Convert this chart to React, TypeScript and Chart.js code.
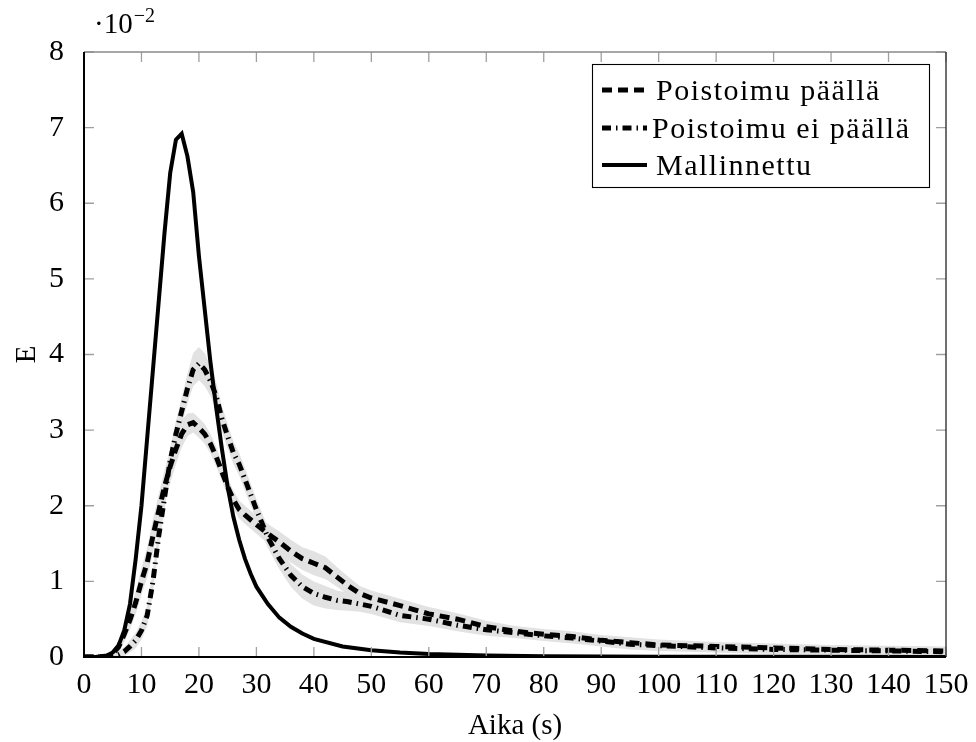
import React, { useEffect, useRef } from 'react';
import { Chart, registerables } from 'chart.js';

Chart.register(...registerables);

const FONT = '"Liberation Serif", "Times New Roman", serif';

// Time axis (s) for the measured curves
const measTime = [0, 2, 4, 5, 6, 7, 8, 9, 10, 11, 12, 13, 14, 15, 16, 17, 18, 19, 20, 21, 22, 23, 24, 25, 26, 27, 28, 30, 32, 34, 36, 38, 40, 42, 44, 46, 48, 50, 55, 60, 65, 70, 75, 80, 85, 90, 95, 100, 110, 120, 130, 140, 150];

// "Poistoimu päällä" (E in units of 10^-2)
const withE = [0, 0, 0.01, 0.05, 0.13, 0.3, 0.49, 0.72, 1.0, 1.25, 1.6, 1.93, 2.25, 2.52, 2.75, 2.95, 3.07, 3.1, 3.03, 2.95, 2.82, 2.65, 2.45, 2.25, 2.08, 1.95, 1.88, 1.75, 1.63, 1.52, 1.4, 1.3, 1.24, 1.18, 1.06, 0.94, 0.84, 0.78, 0.68, 0.57, 0.5, 0.4, 0.34, 0.3, 0.27, 0.22, 0.19, 0.16, 0.14, 0.12, 0.1, 0.09, 0.08];
const withStd = [0, 0, 0.02, 0.05, 0.08, 0.1, 0.12, 0.15, 0.18, 0.2, 0.22, 0.22, 0.22, 0.22, 0.2, 0.18, 0.15, 0.13, 0.13, 0.13, 0.13, 0.13, 0.12, 0.12, 0.12, 0.12, 0.12, 0.12, 0.13, 0.14, 0.15, 0.15, 0.16, 0.15, 0.13, 0.12, 0.1, 0.1, 0.09, 0.09, 0.08, 0.08, 0.07, 0.07, 0.07, 0.07, 0.07, 0.07, 0.06, 0.06, 0.06, 0.06, 0.06];

// "Poistoimu ei päällä"
const withoutE = [0, 0, 0, 0.01, 0.03, 0.07, 0.14, 0.22, 0.35, 0.55, 1.0, 1.6, 2.1, 2.6, 2.95, 3.25, 3.55, 3.8, 3.88, 3.8, 3.65, 3.45, 3.15, 2.92, 2.7, 2.55, 2.35, 1.95, 1.58, 1.3, 1.08, 0.93, 0.84, 0.79, 0.75, 0.73, 0.7, 0.67, 0.55, 0.5, 0.42, 0.36, 0.32, 0.28, 0.25, 0.21, 0.17, 0.15, 0.12, 0.1, 0.09, 0.08, 0.07];
const withoutStd = [0, 0, 0, 0.02, 0.04, 0.06, 0.08, 0.1, 0.12, 0.14, 0.15, 0.15, 0.15, 0.16, 0.17, 0.18, 0.2, 0.22, 0.22, 0.22, 0.2, 0.18, 0.17, 0.16, 0.15, 0.15, 0.15, 0.14, 0.14, 0.14, 0.15, 0.16, 0.16, 0.15, 0.13, 0.12, 0.1, 0.1, 0.09, 0.09, 0.08, 0.08, 0.07, 0.07, 0.07, 0.07, 0.07, 0.07, 0.06, 0.06, 0.06, 0.06, 0.06];

// "Mallinnettu"
const modelTime = [0, 2, 4, 5, 6, 7, 8, 9, 10, 11, 12, 13, 14, 15, 16, 17, 18, 19, 20, 21, 22, 23, 24, 25, 26, 27, 28, 29, 30, 32, 34, 36, 38, 40, 45, 50, 55, 60, 70, 80, 100, 120, 150];
const modelE = [0, 0, 0.02, 0.06, 0.15, 0.35, 0.7, 1.3, 2.0, 2.9, 3.8, 4.7, 5.6, 6.4, 6.84, 6.92, 6.62, 6.15, 5.3, 4.6, 3.9, 3.3, 2.75, 2.25, 1.85, 1.55, 1.3, 1.1, 0.93, 0.7, 0.52, 0.4, 0.31, 0.24, 0.14, 0.09, 0.06, 0.04, 0.02, 0.01, 0.004, 0.002, 0];

const xTicks = [0, 10, 20, 30, 40, 50, 60, 70, 80, 90, 100, 110, 120, 130, 140, 150];
const yTicks = [0, 1, 2, 3, 4, 5, 6, 7, 8];

const seriesNames = ['Poistoimu päällä', 'Poistoimu ei päällä', 'Mallinnettu'];
const xTitle = 'Aika (s)';
const yTitle = 'E';

const DASH = [10, 6];
const DASHDOT = [9, 5, 1.5, 5];

export default function App() {
  const ref = useRef<HTMLCanvasElement>(null);

  useEffect(() => {
    const canvas = ref.current;
    if (!canvas) return;
    const pts = (xs: number[], ys: number[]) => xs.map((x, i) => ({ x, y: ys[i] }));
    const lower = (ys: number[], s: number[]) => ys.map((v, i) => Math.max(0, v - s[i]));
    const upper = (ys: number[], s: number[]) => ys.map((v, i) => v + s[i]);

    const decorPlugin = {
      id: 'decor',
      afterDraw(chart: any) {
        const { ctx, chartArea: a, scales } = chart;
        const xs = scales.x;
        const ys = scales.y;
        ctx.save();
        // inward ticks on all sides
        ctx.strokeStyle = '#a0a0a0';
        ctx.lineWidth = 1.3;
        ctx.beginPath();
        for (const t of xTicks) {
          const px = xs.getPixelForValue(t);
          ctx.moveTo(px, a.bottom);
          ctx.lineTo(px, a.bottom - 10);
          ctx.moveTo(px, a.top);
          ctx.lineTo(px, a.top + 10);
        }
        for (const t of yTicks) {
          const py = ys.getPixelForValue(t);
          ctx.moveTo(a.left, py);
          ctx.lineTo(a.left + 10, py);
          ctx.moveTo(a.right, py);
          ctx.lineTo(a.right - 10, py);
        }
        ctx.stroke();
        // frame
        ctx.lineWidth = 1.6;
        ctx.strokeStyle = '#8a8a8a';
        ctx.beginPath();
        ctx.moveTo(a.left, a.top);
        ctx.lineTo(a.right, a.top);
        ctx.stroke();
        ctx.strokeStyle = '#333';
        ctx.lineWidth = 1.4;
        ctx.beginPath();
        ctx.moveTo(a.right, a.top);
        ctx.lineTo(a.right, a.bottom);
        ctx.stroke();
        ctx.strokeStyle = '#000';
        ctx.lineWidth = 2;
        ctx.beginPath();
        ctx.moveTo(a.left, a.top);
        ctx.lineTo(a.left, a.bottom);
        ctx.lineTo(a.right, a.bottom);
        ctx.stroke();

        // exponent label
        ctx.fillStyle = '#000';
        ctx.textAlign = 'left';
        ctx.textBaseline = 'alphabetic';
        ctx.font = `29px ${FONT}`;
        ctx.fillText('·10', 94, 33);
        const w = ctx.measureText('·10').width;
        ctx.font = `20px ${FONT}`;
        ctx.fillText('−2', 94 + w + 1, 22);

        // axis titles
        ctx.font = `29px ${FONT}`;
        ctx.textAlign = 'center';
        ctx.fillText(xTitle, (a.left + a.right) / 2, 734);
        ctx.save();
        ctx.translate(35, (a.top + a.bottom) / 2);
        ctx.rotate(-Math.PI / 2);
        ctx.fillText(yTitle, 0, 0);
        ctx.restore();

        // legend
        const bx = 592.5, by = 64.5, bw = 337, bh = 123;
        ctx.fillStyle = '#fff';
        ctx.fillRect(bx, by, bw, bh);
        ctx.strokeStyle = '#000';
        ctx.lineWidth = 1.1;
        ctx.strokeRect(bx, by, bw, bh);
        const rows = [90, 128, 165];
        const dashes = [DASH, DASHDOT, []];
        const textX = [656, 652, 656];
        for (let i = 0; i < 3; i++) {
          ctx.strokeStyle = '#000';
          ctx.lineWidth = i === 2 ? 4 : 5;
          ctx.lineCap = 'butt';
          ctx.setLineDash(dashes[i]);
          ctx.beginPath();
          ctx.moveTo(602, rows[i]);
          ctx.lineTo(647, rows[i]);
          ctx.stroke();
          ctx.setLineDash([]);
          ctx.fillStyle = '#000';
          ctx.textAlign = 'left';
          ctx.textBaseline = 'alphabetic';
          ctx.font = `30px ${FONT}`;
          try { (ctx as any).letterSpacing = '1.5px'; } catch (e) {}
          ctx.fillText(seriesNames[i], textX[i], rows[i] + 10);
          try { (ctx as any).letterSpacing = '0px'; } catch (e) {}
        }
        ctx.restore();
      },
    };

    const band = '#e2e2e2';
    const chart = new Chart(canvas, {
      type: 'line',
      data: {
        datasets: [
          {
            label: seriesNames[2],
            data: pts(modelTime, modelE),
            borderColor: '#000',
            borderWidth: 4,
            pointRadius: 0,
            tension: 0,
            fill: false,
            borderJoinStyle: 'miter',
          },
          {
            label: seriesNames[0],
            data: pts(measTime, withE),
            borderColor: '#000',
            borderWidth: 5,
            borderDash: DASH,
            pointRadius: 0,
            tension: 0,
            fill: false,
          },
          {
            label: seriesNames[1],
            data: pts(measTime, withoutE),
            borderColor: '#000',
            borderWidth: 5,
            borderDash: DASHDOT,
            pointRadius: 0,
            tension: 0,
            fill: false,
          },
          {
            label: 'lo1',
            data: pts(measTime, lower(withE, withStd)),
            borderWidth: 0,
            borderColor: 'transparent',
            pointRadius: 0,
            fill: false,
          },
          {
            label: 'hi1',
            data: pts(measTime, upper(withE, withStd)),
            borderWidth: 0,
            borderColor: 'transparent',
            backgroundColor: band,
            pointRadius: 0,
            fill: '-1',
          },
          {
            label: 'lo2',
            data: pts(measTime, lower(withoutE, withoutStd)),
            borderWidth: 0,
            borderColor: 'transparent',
            pointRadius: 0,
            fill: false,
          },
          {
            label: 'hi2',
            data: pts(measTime, upper(withoutE, withoutStd)),
            borderWidth: 0,
            borderColor: 'transparent',
            backgroundColor: band,
            pointRadius: 0,
            fill: '-1',
          },
        ],
      } as any,
      options: {
        responsive: false,
        devicePixelRatio: 1,
        animation: false,
        events: [],
        layout: { padding: { left: 0, right: 30, top: 52, bottom: 0 } },
        plugins: {
          legend: { display: false },
          tooltip: { enabled: false },
          filler: { propagate: false, drawTime: 'beforeDatasetsDraw' },
        } as any,
        scales: {
          x: {
            type: 'linear',
            min: 0,
            max: 150,
            grid: { display: false },
            border: { display: false },
            afterBuildTicks: (s: any) => { s.ticks = xTicks.map((v) => ({ value: v })); },
            afterFit: (s: any) => { s.height = 85; },
            ticks: {
              color: '#000',
              font: { family: FONT, size: 30 },
              padding: 2,
              maxRotation: 0,
              autoSkip: false,
            },
          },
          y: {
            type: 'linear',
            min: 0,
            max: 8,
            grid: { display: false },
            border: { display: false },
            afterBuildTicks: (s: any) => { s.ticks = yTicks.map((v) => ({ value: v })); },
            afterFit: (s: any) => { s.width = 84; },
            ticks: {
              color: '#000',
              font: { family: FONT, size: 30 },
              padding: 12,
              callback: (v: any) => String(v),
            },
          },
        },
      } as any,
      plugins: [decorPlugin],
    });
    return () => chart.destroy();
  }, []);

  return (
    <div style={{ position: 'absolute', left: 0, top: 0, width: 976, height: 742, background: '#fff' }}>
      <canvas ref={ref} width={976} height={742} style={{ width: 976, height: 742, display: 'block' }} />
    </div>
  );
}
